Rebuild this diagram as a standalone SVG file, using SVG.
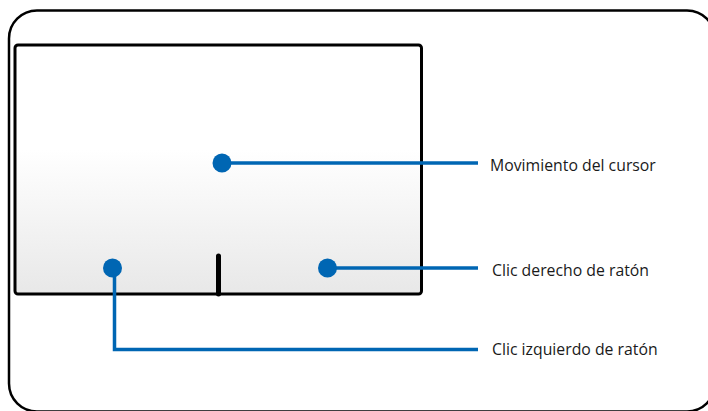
<svg xmlns="http://www.w3.org/2000/svg" width="708" height="411" viewBox="0 0 708 411">
<defs>
<linearGradient id="pad" x1="0" y1="0" x2="0" y2="1">
<stop offset="0" stop-color="#ffffff"/>
<stop offset="0.42" stop-color="#ffffff"/>
<stop offset="1" stop-color="#e8e8e8"/>
</linearGradient>
<style>
.lead{fill:none;stroke:#0066b3;stroke-width:3.5}
.dot{fill:#0066b3}
.lbl{font-family:"Open Sans","Liberation Sans",sans-serif;font-size:15.8px;fill:#1a1a1a}
</style>
</defs>
<g id="frame">
<rect x="9" y="10.5" width="706" height="401" rx="28" fill="#ffffff" stroke="#000" stroke-width="2.5"/>
</g>
<g id="touchpad">
<rect x="15" y="45" width="406.5" height="249" rx="3" fill="url(#pad)" stroke="#000" stroke-width="3"/>
<line x1="218.5" y1="256" x2="218.5" y2="294" stroke="#000" stroke-width="5" stroke-linecap="round"/>
</g>
<g id="connectors">
<polyline class="lead" points="222,163 478,163"/>
<polyline class="lead" points="327.5,268 478,268"/>
<polyline class="lead" points="114.5,268 114.5,349.5 478,349.5"/>
</g>
<g id="cursor">
<circle class="dot" cx="222" cy="163" r="9.5"/>
<text class="lbl" x="490" y="171">Movimiento del cursor</text>
</g>
<g id="right-click">
<circle class="dot" cx="327.5" cy="268" r="9.5"/>
<text class="lbl" x="492" y="276">Clic derecho de ratón</text>
</g>
<g id="left-click">
<circle class="dot" cx="112.5" cy="268" r="9.5"/>
<text class="lbl" x="492" y="355">Clic izquierdo de ratón</text>
</g>
</svg>
